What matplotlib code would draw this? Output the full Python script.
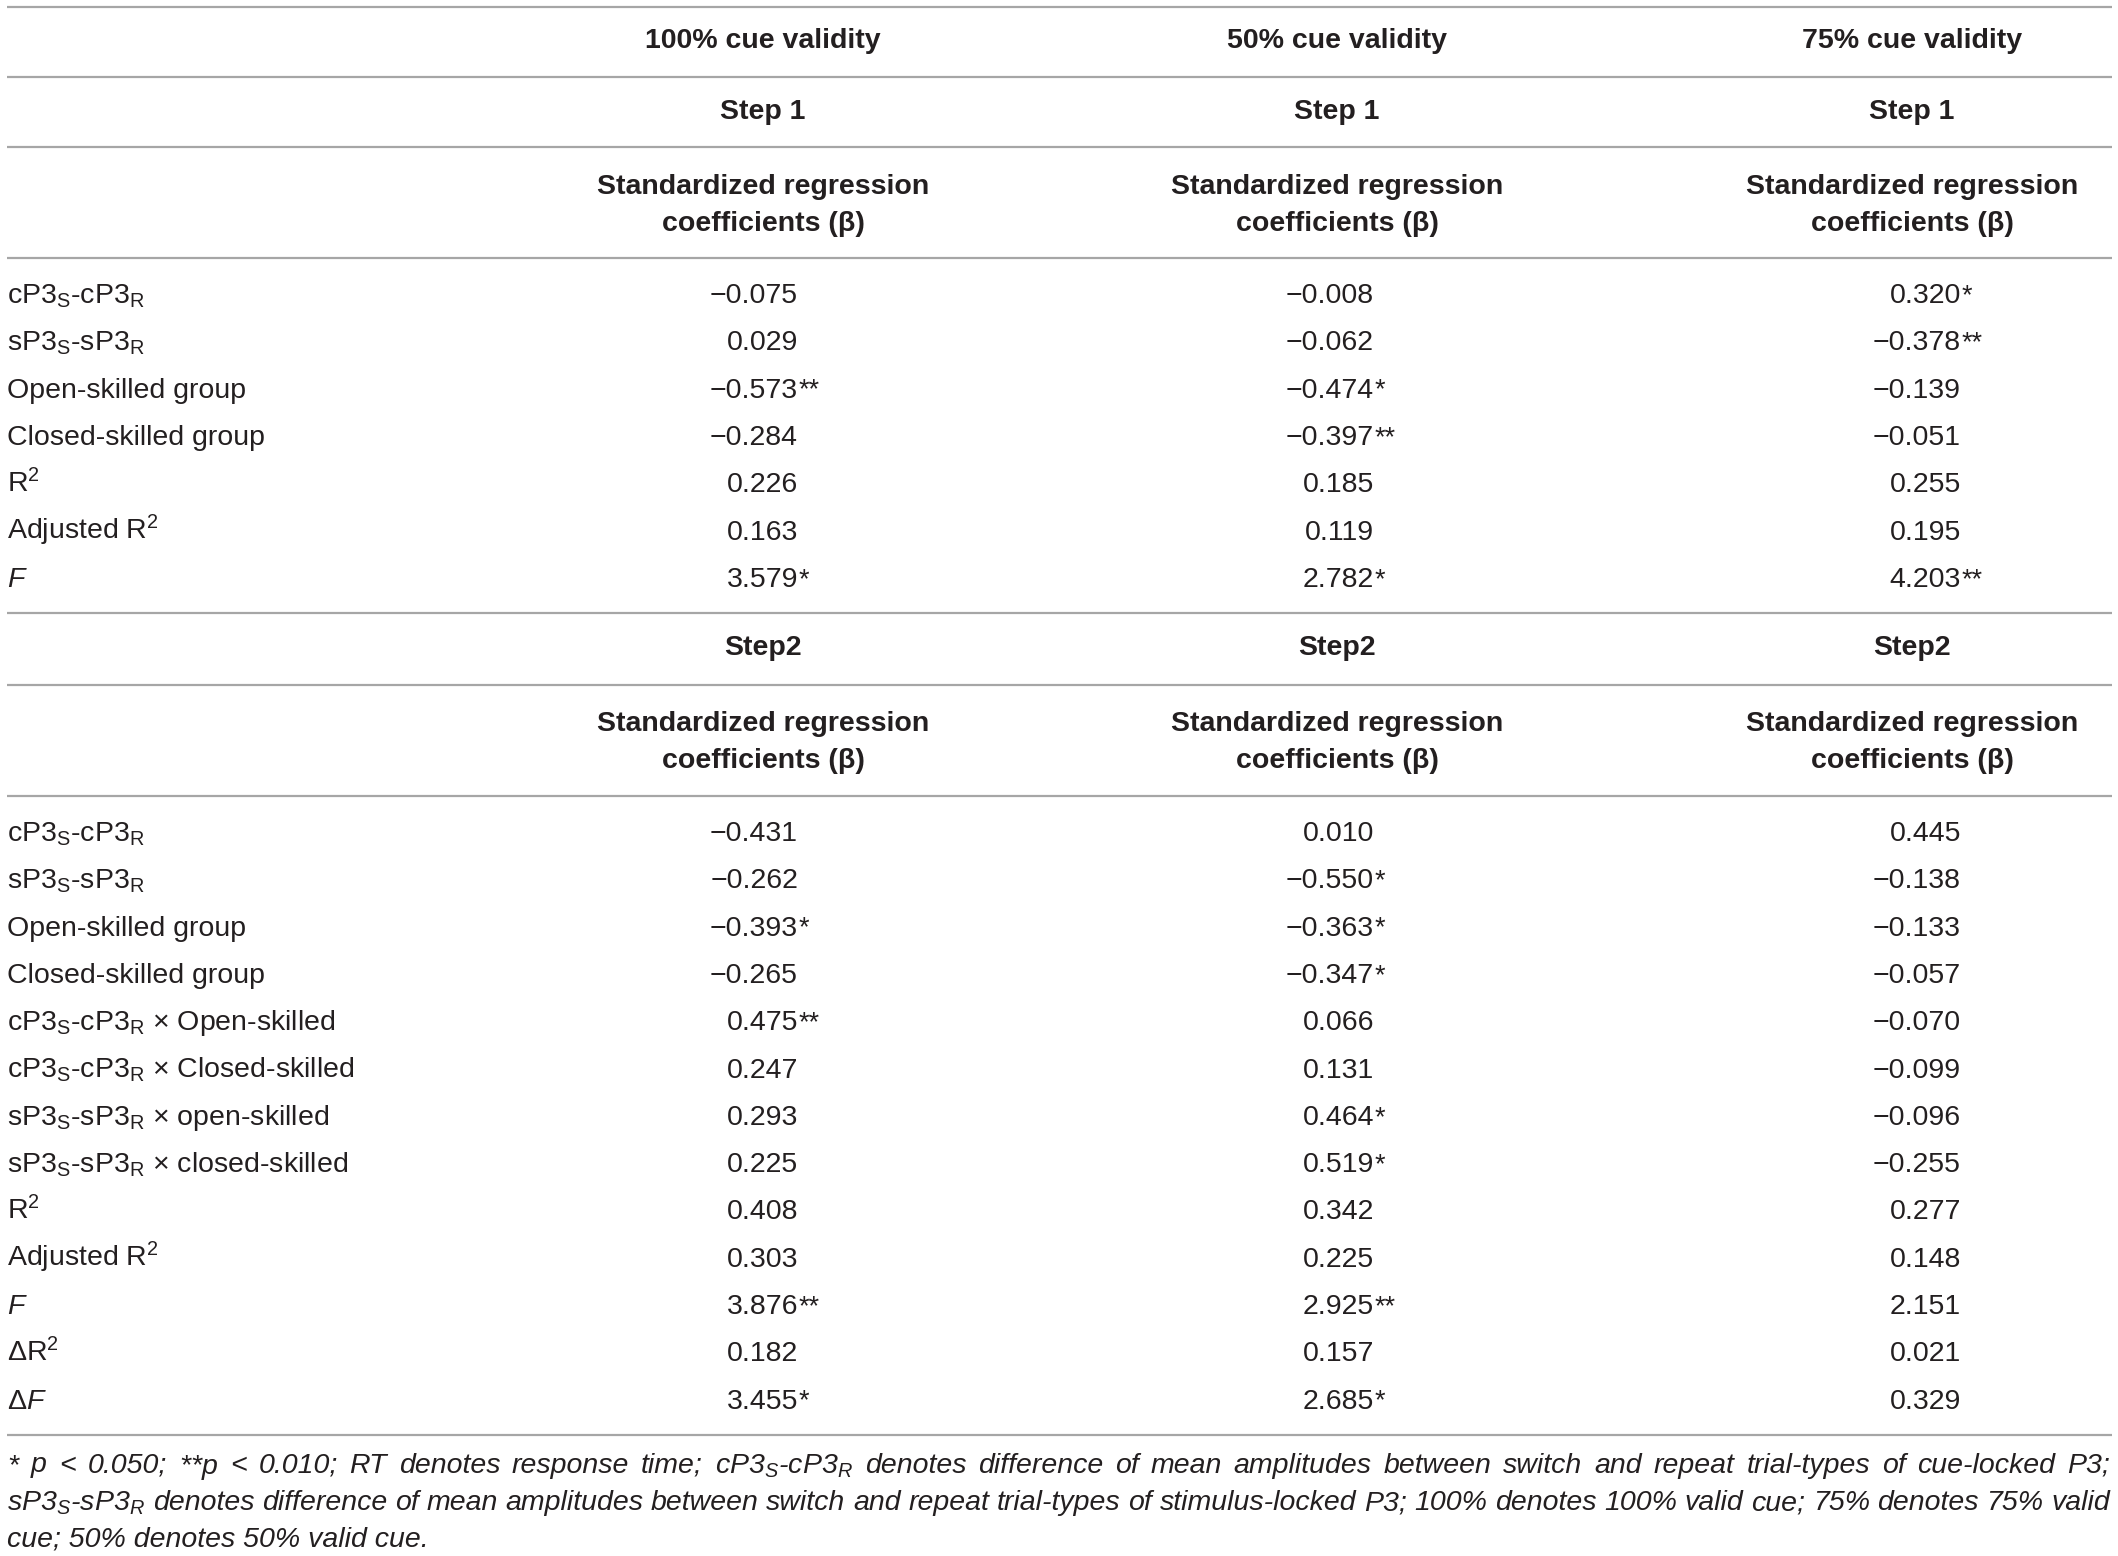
import matplotlib
matplotlib.use("Agg")
import matplotlib.pyplot as plt

plt.rcParams["font.family"] = ["Liberation Sans", "DejaVu Sans"]
plt.rcParams["mathtext.fontset"] = "custom"
plt.rcParams["mathtext.rm"] = "Liberation Sans"
plt.rcParams["mathtext.it"] = "Liberation Sans:italic"
plt.rcParams["mathtext.bf"] = "Liberation Sans:bold"

# ---- table content ----
conditions = ["100% cue validity", "50% cue validity", "75% cue validity"]
step1_title = "Step 1"
step2_title = "Step2"
coef_title = "Standardized regression\ncoefficients (\u03b2)"

CP3 = r"cP3$_\mathregular{S}$-cP3$_\mathregular{R}$"
SP3 = r"sP3$_\mathregular{S}$-sP3$_\mathregular{R}$"
R2 = r"R$^\mathregular{2}$"

step1_labels = [CP3, SP3, "Open-skilled group", "Closed-skilled group",
                R2, "Adjusted " + R2, r"$\mathit{F}$"]
step1_100 = ["\u22120.075", "0.029", "\u22120.573**", "\u22120.284", "0.226", "0.163", "3.579*"]
step1_50 = ["\u22120.008", "\u22120.062", "\u22120.474*", "\u22120.397**", "0.185", "0.119", "2.782*"]
step1_75 = ["0.320*", "\u22120.378**", "\u22120.139", "\u22120.051", "0.255", "0.195", "4.203**"]

step2_labels = [CP3, SP3, "Open-skilled group", "Closed-skilled group",
                CP3 + " \u00d7 Open-skilled", CP3 + " \u00d7 Closed-skilled",
                SP3 + " \u00d7 open-skilled", SP3 + " \u00d7 closed-skilled",
                R2, "Adjusted " + R2, r"$\mathit{F}$",
                "\u0394" + R2, r"$\Delta\mathit{F}$"]
step2_100 = ["\u22120.431", "\u22120.262", "\u22120.393*", "\u22120.265", "0.475**", "0.247",
             "0.293", "0.225", "0.408", "0.303", "3.876**", "0.182", "3.455*"]
step2_50 = ["0.010", "\u22120.550*", "\u22120.363*", "\u22120.347*", "0.066", "0.131",
            "0.464*", "0.519*", "0.342", "0.225", "2.925**", "0.157", "2.685*"]
step2_75 = ["0.445", "\u22120.138", "\u22120.133", "\u22120.057", "\u22120.070", "\u22120.099",
            "\u22120.096", "\u22120.255", "0.277", "0.148", "2.151", "0.021", "0.329"]

footnote = [
    r"* $\mathit{p}$ < 0.050; **$\mathit{p}$ < 0.010; RT denotes response time; "
    r"cP3$_\mathregular{S}$-cP3$_\mathregular{R}$ denotes difference of mean amplitudes between switch and "
    r"repeat trial-types of cue-locked P3;",
    r"sP3$_\mathregular{S}$-sP3$_\mathregular{R}$ denotes difference of mean amplitudes between switch and "
    r"repeat trial-types of stimulus-locked P3; 100% denotes 100% valid cue; 75% denotes 75% valid",
    "cue; 50% denotes 50% valid cue.",
]

# ---- layout (pixels) ----
W, H = 2118, 1556
FS = 20.5
TXT = "#231f20"
LINE = "#a6a6a6"
col_x = [763, 1337, 1912]        # header centres
num_right = [798, 1374, 1961]    # right edge of the digits
left_x = 7
row_h = 47.3
base_off = 10                    # baseline below row centre

fig = plt.figure(figsize=(W / 100, H / 100), dpi=100)
ax = fig.add_axes([0, 0, 1, 1])
ax.set_xlim(0, W)
ax.set_ylim(H, 0)
ax.axis("off")


def hline(y):
    ax.plot([7, 2112], [y, y], color=LINE, lw=1.6, solid_capstyle="butt")


def value(x, y, s):
    num = s.rstrip("*")
    stars = s[len(num):]
    ax.text(x, y, num, ha="right", va="baseline", fontsize=FS, color=TXT)
    if stars:
        ax.text(x + 1, y, stars, ha="left", va="baseline", fontsize=FS * 0.95, color=TXT)


def block(y0, labels, cols):
    for i, lab in enumerate(labels):
        y = y0 + i * row_h + base_off
        ax.text(left_x, y, lab, ha="left", va="baseline", fontsize=FS, color=TXT)
        for x, vals in zip(num_right, cols):
            value(x, y, vals[i])


for y in [7, 77, 147, 258, 613, 685, 796, 1435]:
    hline(y)

bold = dict(ha="center", va="center", fontsize=FS, fontweight="bold", color=TXT)
for x, cond in zip(col_x, conditions):
    ax.text(x, 41, cond, **bold)
    ax.text(x, 112, step1_title, **bold)
    ax.text(x, 205, coef_title, linespacing=1.55, **bold)
    ax.text(x, 648, step2_title, **bold)
    ax.text(x, 742, coef_title, linespacing=1.55, **bold)

block(293, step1_labels, [step1_100, step1_50, step1_75])
block(831, step2_labels, [step2_100, step2_50, step2_75])

# footnote, justified for the first two lines
renderer = fig.canvas.get_renderer()
foot_y = [1463, 1500, 1536]
foot_fs = FS * 1.0
for k, (line, y) in enumerate(zip(footnote, foot_y)):
    if k == len(footnote) - 1:
        ax.text(left_x, y, line, ha="left", va="center_baseline", fontsize=foot_fs,
                style="italic", color=TXT)
        continue
    # split on spaces outside math
    words, cur, inmath = [], "", False
    for ch in line:
        if ch == "$":
            inmath = not inmath
        if ch == " " and not inmath:
            words.append(cur)
            cur = ""
        else:
            cur += ch
    words.append(cur)
    arts = [ax.text(0, y, w, ha="left", va="center_baseline", fontsize=foot_fs,
                    style="italic", color=TXT) for w in words]
    widths = [a.get_window_extent(renderer).width for a in arts]
    gap = (2110 - left_x - sum(widths)) / (len(words) - 1)
    x = left_x
    for a, w in zip(arts, widths):
        a.set_x(x)
        x += w + gap

fig.savefig("out.png", dpi=100)
